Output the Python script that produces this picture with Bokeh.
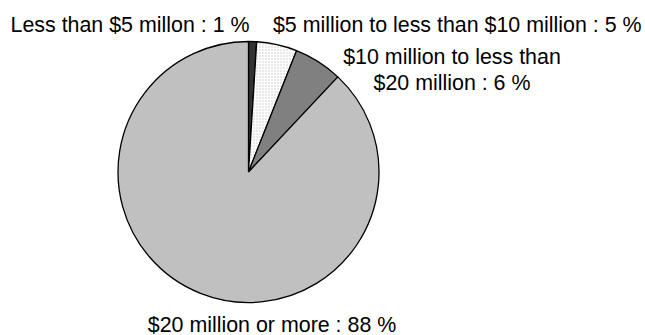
import math
from bokeh.plotting import figure
from bokeh.models import ColumnDataSource
from bokeh.core.properties import value
from bokeh.embed import file_html
from bokeh.resources import INLINE

categories = ["Less than $5 millon", "$5 million to less than $10 million",
              "$10 million to less than $20 million", "$20 million or more"]
percents = [1, 5, 6, 88]
colors = ["#333333", "#ffffff", "#808080", "#c0c0c0"]
hatches = [" ", ".", " ", " "]

W, H = 645, 335
cx, cy, r = 248, H - 171.5, 130.5

total = sum(percents)
starts, ends = [], []
acc = 0.0
for v in percents:
    a0 = math.pi / 2 - 2 * math.pi * acc / total
    acc += v
    a1 = math.pi / 2 - 2 * math.pi * acc / total
    starts.append(a1)
    ends.append(a0)

src = ColumnDataSource(dict(start=starts, end=ends, color=colors, hatch=hatches))

p = figure(width=W, height=H, x_range=(0, W), y_range=(0, H),
           output_backend="svg", toolbar_location=None, min_border=0)
p.axis.visible = False
p.grid.visible = False
p.outline_line_color = None
p.background_fill_color = "white"

p.wedge(x=cx, y=cy, radius=r, start_angle="start", end_angle="end", source=src,
        fill_color="color", line_color="black", line_width=1.3,
        hatch_pattern="hatch", hatch_color="#c8c8c8", hatch_scale=3, hatch_weight=1)

font = value("Liberation Sans")
fs = "21.4px"
common = dict(text_font=font, text_font_size=fs, text_baseline="alphabetic", text_color="black")
p.text(x=[10], y=[H - 24], text=[f"{categories[0]} : {percents[0]} %"], text_align="left", **common)
p.text(x=[641], y=[H - 24], text=[f"{categories[1]} : {percents[1]} %"], text_align="right", **common)
p.text(x=[451.5, 451.5], y=[H - 56, H - 82],
       text=["$10 million to less than", f"$20 million : {percents[2]} %"], text_align="center", **common)
p.text(x=[271.5], y=[H - 324], text=[f"{categories[3]} : {percents[3]} %"], text_align="center", **common)

open("out.html", "w").write(file_html(p, INLINE))
